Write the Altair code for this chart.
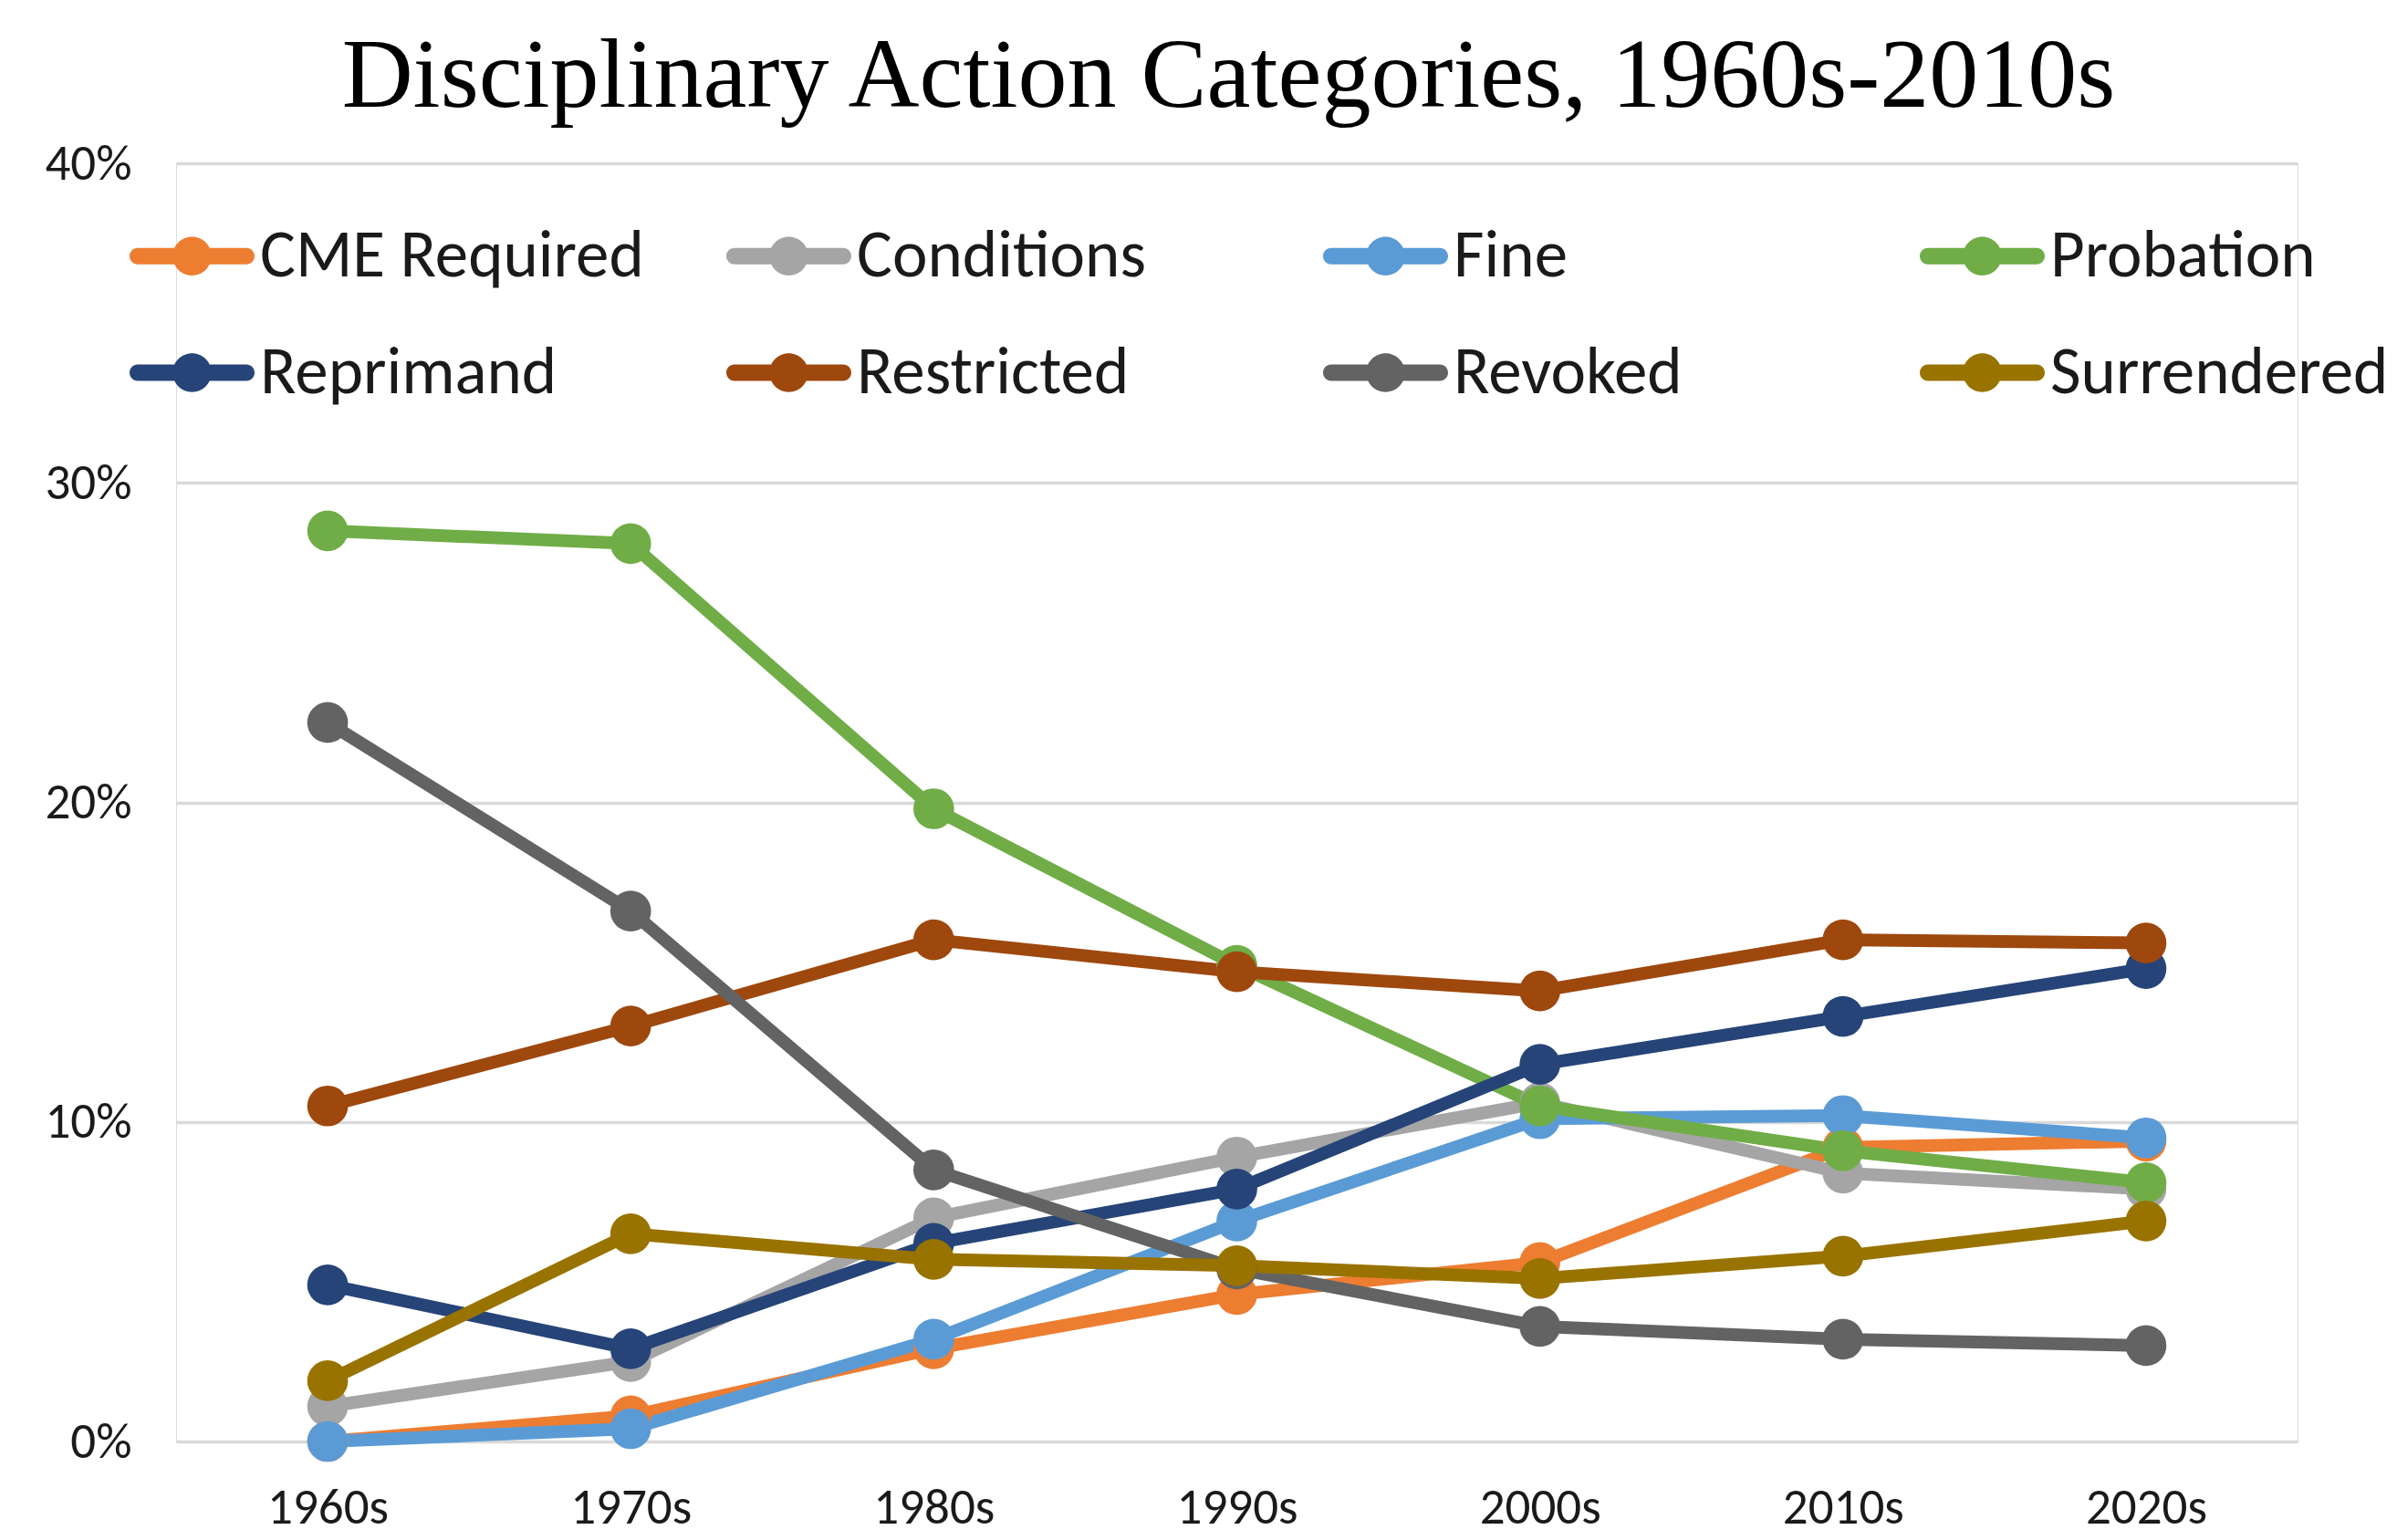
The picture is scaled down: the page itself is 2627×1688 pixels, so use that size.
import altair as alt
import pandas as pd

decades = ["1960s", "1970s", "1980s", "1990s", "2000s", "2010s", "2020s"]
series_names = ["CME Required", "Conditions", "Fine", "Probation",
                "Reprimand", "Restricted", "Revoked", "Surrendered"]
series_colors = ["#ED7D31", "#A5A5A5", "#5B9BD5", "#70AD47",
                 "#264478", "#9E480E", "#636363", "#997300"]

# values in percent
cme_required = [0.0, 0.8, 2.9, 4.6, 5.6, 9.2, 9.4]
conditions = [1.1, 2.5, 7.0, 8.9, 10.6, 8.4, 7.9]
fine = [0.0, 0.4, 3.2, 6.9, 10.1, 10.2, 9.5]
probation = [28.5, 28.1, 19.8, 14.9, 10.5, 9.1, 8.1]
reprimand = [4.9, 2.9, 6.2, 7.9, 11.8, 13.3, 14.8]
restricted = [10.5, 13.0, 15.7, 14.7, 14.1, 15.7, 15.6]
revoked = [22.5, 16.6, 8.5, 5.4, 3.6, 3.2, 3.0]
surrendered = [1.9, 6.5, 5.7, 5.5, 5.1, 5.8, 6.9]

y_ticks = [0, 0.1, 0.2, 0.3, 0.4]

all_values = [cme_required, conditions, fine, probation,
              reprimand, restricted, revoked, surrendered]
rows = []
for name, vals in zip(series_names, all_values):
    for d, v in zip(decades, vals):
        rows.append({"decade": d, "series": name, "value": v / 100.0})
df = pd.DataFrame(rows)

LABEL_FONT = "Carlito, Calibri, Lato, sans-serif"

legend_symbol = ("M-0.87,-0.13L0.87,-0.13A0.13,0.13 0 0,1 0.87,0.13"
                 "L-0.87,0.13A0.13,0.13 0 0,1 -0.87,-0.13Z "
                 "M0.31,0A0.31,0.31 0 1,1 -0.31,0A0.31,0.31 0 1,1 0.31,0Z")

x_enc = alt.X("decade:N", sort=decades,
              scale=alt.Scale(type="point", padding=0.5),
              axis=alt.Axis(title=None, labelAngle=0, ticks=False, domain=False,
                            labelFont=LABEL_FONT, labelFontSize=55,
                            labelColor="#1a1a1a", labelPadding=46))
y_enc = alt.Y("value:Q", scale=alt.Scale(domain=[0, 0.4], nice=False),
              axis=alt.Axis(values=y_ticks, format=".0%", title=None,
                            ticks=False, domain=False, grid=True,
                            gridColor="#D9D9D9", gridWidth=3.5,
                            labelFont=LABEL_FONT, labelFontSize=55,
                            labelColor="#1a1a1a", labelPadding=49))
color_scale = alt.Scale(domain=series_names, range=series_colors)

lines = alt.Chart(df).mark_line(strokeWidth=14, strokeJoin="round", strokeCap="round").encode(
    x=x_enc, y=y_enc,
    color=alt.Color("series:N", scale=color_scale, legend=None),
)

points = alt.Chart(df).mark_point(filled=True, size=2000, opacity=1, shape="circle").encode(
    x=x_enc, y=y_enc,
    color=alt.Color("series:N", scale=color_scale,
                    legend=alt.Legend(title=None, orient="none", legendX=-51, legendY=33,
                                      columns=4, direction="horizontal", gridAlign="all",
                                      columnPadding=90, rowPadding=22, padding=0,
                                      symbolType=legend_symbol, symbolSize=18769,
                                      symbolStrokeWidth=0, symbolOpacity=1,
                                      labelFont=LABEL_FONT, labelFontSize=73,
                                      labelColor="#1a1a1a", labelOffset=6,
                                      labelLimit=1000)),
)

chart = alt.layer(lines, points).resolve_legend(color="independent").properties(
    width=2325,
    height=1401,
    title=alt.TitleParams("Disciplinary Action Categories, 1960s-2010s",
                          font="Liberation Serif", fontSize=108, fontWeight="normal",
                          color="#000000", anchor="middle", offset=12, dx=-9),
    autosize=alt.AutoSizeParams(type="none"),
    padding={"left": 185, "top": 171, "right": 100, "bottom": 98},
).configure_view(stroke=None).configure(background="white")

chart.save("out.html", embed_options={"renderer": "svg", "actions": False})
